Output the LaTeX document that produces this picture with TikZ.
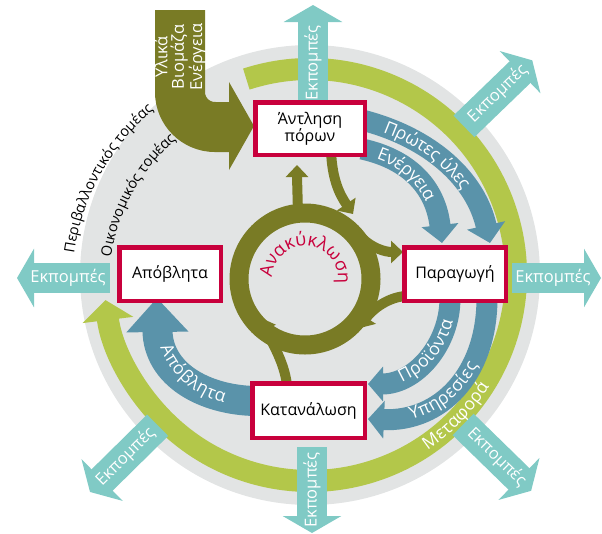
\documentclass[tikz,border=0pt]{standalone}
\usepackage{fontspec}
\setmainfont{Open Sans}
\usetikzlibrary{arrows.meta,decorations.text}
\definecolor{discgray}{HTML}{E2E4E4}
\definecolor{ringgreen}{HTML}{B3C74A}
\definecolor{olivec}{HTML}{797B25}
\definecolor{flowblue}{HTML}{5A93AA}
\definecolor{emteal}{HTML}{80CAC5}
\definecolor{crimsonc}{HTML}{C8003C}
\newcommand\boxfont{\fontsize{16}{17}\selectfont}
\newcommand\wfont{\fontsize{16.5}{18}\selectfont}
\newcommand\pfont{\fontsize{17.5}{19}\selectfont}
\newcommand\sfont{\fontsize{14.5}{16}\selectfont}
\begin{document}
\begin{tikzpicture}[x=1pt,y=-1pt,
  stepbox/.style={draw=crimsonc, line width=4.5pt, fill=white, inner sep=0pt, align=center, font=\boxfont},
  emit/.style={draw=emteal, line width=30pt, -{Triangle[width=58pt,length=17pt]}},
  emitlbl/.style={text=white, font=\wfont, inner sep=0pt},
  flow/.style={draw=flowblue, line width=21pt},
  recyc/.style={draw=olivec, line width=10pt, -{Triangle[width=22pt,length=12pt]}},
]
\useasboundingbox (0,0) rectangle (602,533);
\coordinate (C) at (310,275);
\coordinate (L) at (300,285);
\coordinate (R) at (305,279);
% disc
\fill[discgray] (C) circle[radius=230];
% sector labels
\path[decorate, decoration={text along path, text={|\sfont|Περιβαλλοντικός τομέας}, text align=center}]
  ([shift={(180:228)}]L) arc[start angle=180, end angle=238, radius=228];
\path[decorate, decoration={text along path, text={|\sfont|Οικονομικός τομέας}, text align=center}]
  ([shift={(180:191)}]L) arc[start angle=180, end angle=238, radius=191];
% green transport ring
\draw[ringgreen, line width=22pt, -{Triangle[width=50pt,length=20pt]}]
  ([shift={(252:206)}]C) arc[start angle=252, end angle=533, radius=206];
\path[decorate, decoration={text along path, text={|\pfont|Μεταφορά}, text align=center, text color=white, raise=-5pt}]
  ([shift={(60:206)}]C) arc[start angle=60, end angle=28, radius=206];
% blue flows
\coordinate (pu0) at (362,120);
\coordinate (pu1) at (490,243);
\draw[flow, -{Triangle[width=38pt,length=18pt]}] (pu0) .. controls (432,138) and (476,180) .. (pu1);
\path[decorate, decoration={text along path, text={|\pfont|Πρώτες ύλες}, text align={left indent=24pt}, text color=white, raise=-5.5pt}]
  (pu0) .. controls (432,138) and (476,180) .. (pu1);
\coordinate (en0) at (362,149);
\coordinate (en1) at (442,243);
\draw[flow, -{Triangle[width=36pt,length=18pt]}] (en0) .. controls (412,160) and (436,190) .. (en1);
\path[decorate, decoration={text along path, text={|\pfont|Ενέργεια}, text align={left indent=17pt}, text color=white, raise=-5.5pt}]
  (en0) .. controls (412,160) and (436,190) .. (en1);
\coordinate (pr0) at (450,298);
\coordinate (pr1) at (368,384);
\draw[flow, -{Triangle[width=34pt,length=15pt]}] (pr0) .. controls (450,345) and (415,384) .. (pr1);
\path[decorate, decoration={text along path, text={|\pfont|Προϊόντα}, text align={left indent=32pt}, text color=white, raise=-5.5pt}]
  (pr1) .. controls (415,384) and (450,345) .. (pr0);
\coordinate (yp0) at (487,298);
\coordinate (yp1) at (368,419);
\draw[flow, -{Triangle[width=37pt,length=16pt]}] (yp0) .. controls (487,375) and (440,422) .. (yp1);
\path[decorate, decoration={text along path, text={|\pfont|Υπηρεσίες}, text align={left indent=42pt}, text color=white, raise=-5.5pt}]
  (yp1) .. controls (440,422) and (487,375) .. (yp0);
\coordinate (ap0) at (255,401);
\coordinate (ap1) at (157,298);
\draw[draw=flowblue, line width=30pt, -{Triangle[width=60pt,length=34pt]}] (ap0) .. controls (205,400) and (158,375) .. (ap1);
\path[decorate, decoration={text along path, text={|\pfont|Απόβλητα}, text align={left indent=48pt}, text color=white, raise=-5.5pt}]
  (ap1) .. controls (158,375) and (205,400) .. (ap0);
% emissions
\draw[emit] (313,100) -- (313,5);
\draw[emit] (312,447) -- (312,533);
\draw[emit] (512,278) -- (601,278);
\draw[emit] (110,278) -- (17,278);
\draw[emit] ([shift={(-44:214)}]C) -- ([shift={(-44:309)}]C);
\draw[emit] ([shift={(44.3:214)}]C) -- ([shift={(44.3:309)}]C);
\draw[emit] ([shift={(135.4:214)}]C) -- ([shift={(135.4:309)}]C);
\node[emitlbl, rotate=90] (et) at (313,63) {Εκπομπές};
\node[emitlbl, rotate=90] (eb) at (312,490) {Εκπομπές};
\node[emitlbl] (er) at (553,278) {Εκπομπές};
\node[emitlbl] (el) at (68,278) {Εκπομπές};
\node[emitlbl, rotate=44] (ene) at ([shift={(-44:261)}]C) {Εκπομπές};
\node[emitlbl, rotate=-44.3] (ese) at ([shift={(44.3:261)}]C) {Εκπομπές};
\node[emitlbl, rotate=44.6] (esw) at ([shift={(135.4:259)}]C) {Εκπομπές};
% olive input
\draw[olivec, line width=50pt] (180,10) -- (180,92) arc[start angle=180, end angle=90, radius=35] -- (231,127);
\fill[olivec] (229,82) -- (254,126) -- (229,170) -- cycle;
\node[rotate=90, text=white, font=\fontsize{16.5}{16.5}\selectfont, align=center, inner sep=0pt] (inlbl) at (180,57) {Υλικά\\Βιομάζα\\Ενέργεια};
% recycling
\draw[olivec, line width=19pt] (R) circle[radius=66];
\draw[recyc] (298,213) .. controls (297,195) .. (297,165);
\draw[recyc] (331,150) .. controls (332,180) and (340,195) .. (353,214);
\draw[recyc] (362,238) .. controls (372,248) and (385,252) .. (403,252);
\draw[recyc] (405,296) .. controls (385,298) and (370,312) .. (360,328);
\draw[recyc] (287,385) .. controls (284,360) and (270,340) .. (261,318);
\path[decorate, decoration={text along path, text={|\fontsize{18}{19}\selectfont|Ανακύκλωση}, text color=crimsonc, text align=fit to path}]
  ([shift={(182:33)}]R) arc[start angle=182, end angle=360, radius=33];
% boxes
\node[stepbox, minimum width=109.5pt, minimum height=52.5pt] (ant) at (310,128.5) {Άντληση\\πόρων};
\node[stepbox, minimum width=101.5pt, minimum height=53.5pt] (par) at (455,274) {Παραγωγή};
\node[stepbox, minimum width=112.5pt, minimum height=54.5pt] (kat) at (308.5,410.5) {Κατανάλωση};
\node[stepbox, minimum width=101.5pt, minimum height=53.5pt] (apo) at (170,274) {Απόβλητα};
\end{tikzpicture}
\end{document}
